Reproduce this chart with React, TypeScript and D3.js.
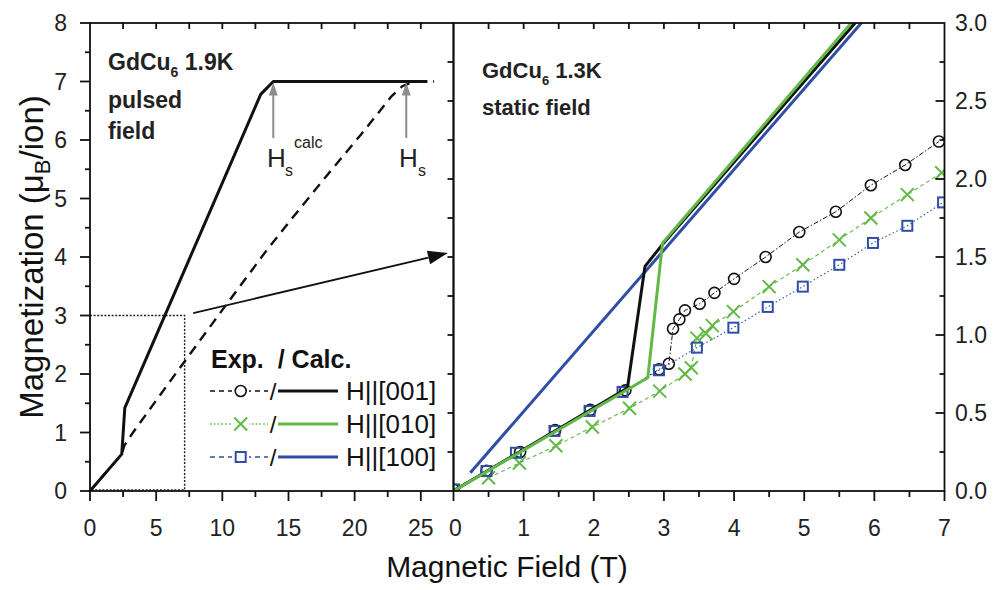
import React from 'react';
import * as d3 from 'd3';

// ---------- Pulsed-field panel (GdCu6, 1.9 K) ----------
const pulsedCalcField = [0, 2.4, 2.63, 12.9, 13.85, 25.5];
const pulsedCalcMag = [0, 0.63, 1.42, 6.78, 7.0, 7.0];
const pulsedExpField = [0, 2.4, 2.6, 3.25, 6, 9.76, 13.3, 15.3, 18, 20.5, 22.8, 23.6, 24.5, 26];
const pulsedExpMag = [0, 0.63, 0.78, 1.0, 1.86, 3.02, 4.1, 4.67, 5.42, 6.1, 6.75, 6.92, 7.0, 7.0];
const hsCalcField = 13.85;
const hsField = 23.9;

// ---------- Static-field panel (GdCu6, 1.3 K) ----------
const calc001Field = [0, 2.48, 2.73, 2.96, 5.9];
const calc001Mag = [0, 0.66, 1.44, 1.57, 3.09];
const calc010Field = [0, 2.77, 2.98, 5.9];
const calc010Mag = [0, 0.726, 1.59, 3.12];
const calc100Field = [0.24, 5.95];
const calc100Mag = [0.117, 3.07];

const exp001Field = [0, 0.47, 0.95, 1.45, 1.95, 2.45, 2.93, 3.07, 3.13, 3.22, 3.3, 3.51, 3.72, 4.0, 4.45, 4.93, 5.45, 5.95, 6.44, 6.92];
const exp001Mag = [0.01, 0.13, 0.25, 0.39, 0.52, 0.645, 0.78, 0.816, 1.04, 1.1, 1.158, 1.2, 1.27, 1.36, 1.5, 1.66, 1.79, 1.96, 2.09, 2.24];
const exp010Field = [0.5, 0.94, 1.46, 1.98, 2.51, 2.94, 3.3, 3.39, 3.47, 3.6, 3.69, 3.99, 4.5, 4.98, 5.5, 5.95, 6.47, 6.96];
const exp010Mag = [0.085, 0.18, 0.29, 0.41, 0.53, 0.64, 0.75, 0.79, 0.98, 1.01, 1.06, 1.15, 1.31, 1.45, 1.61, 1.75, 1.9, 2.04];
const exp100Field = [0.01, 0.47, 0.89, 1.44, 1.94, 2.41, 2.93, 3.47, 3.99, 4.48, 4.98, 5.5, 5.98, 6.47, 6.98];
const exp100Mag = [0.01, 0.128, 0.245, 0.385, 0.513, 0.635, 0.774, 0.919, 1.047, 1.18, 1.31, 1.45, 1.59, 1.7, 1.85];

// ---------- Axis ticks ----------
const leftYTicks = [0, 1, 2, 3, 4, 5, 6, 7, 8];
const leftXTicks = [0, 5, 10, 15, 20, 25];
const rightXTicks = [0, 1, 2, 3, 4, 5, 6, 7];
const rightYTicks = [0, 0.5, 1, 1.5, 2, 2.5, 3];
const legendLabels = ['H||[001]', 'H||[010]', 'H||[100]'];

const BLACK = '#111';
const GREEN = '#63b947';
const BLUE = '#2f4fa6';
const FONT = "'Liberation Sans', Arial, Helvetica, sans-serif";

const TOP = 23;
const BOTTOM = 491;
const LX0 = 90;
const MID = 453.5;
const RX1 = 944.5;

const xL = d3.scaleLinear().domain([0, 27.47]).range([LX0, MID]);
const yL = d3.scaleLinear().domain([0, 8]).range([BOTTOM, TOP]);
const xR = d3.scaleLinear().domain([0, 7]).range([MID, RX1]);
const yR = d3.scaleLinear().domain([0, 3]).range([BOTTOM, TOP]);

const zip = (xs: number[], ys: number[]) => xs.map((x, i) => [x, ys[i]] as [number, number]);
const range = (a: number, b: number, s: number) => d3.range(a, b + s / 2, s);

const lineL = d3.line<[number, number]>().x(d => xL(d[0])).y(d => yL(d[1]));
const lineR = d3.line<[number, number]>().x(d => xR(d[0])).y(d => yR(d[1]));

function Circle({ x, y }: { x: number; y: number }) {
  return <circle cx={x} cy={y} r={5.5} fill="none" stroke={BLACK} strokeWidth={1.6} />;
}
function Cross({ x, y }: { x: number; y: number }) {
  const s = 6.5;
  return (
    <path d={`M${x - s},${y - s}L${x + s},${y + s}M${x - s},${y + s}L${x + s},${y - s}`} stroke={GREEN} strokeWidth={2} fill="none" />
  );
}
function Square({ x, y }: { x: number; y: number }) {
  return <rect x={x - 5} y={y - 5} width={10} height={10} fill="none" stroke={BLUE} strokeWidth={2} />;
}

function UpArrow({ x, yTip, yTail }: { x: number; yTip: number; yTail: number }) {
  return (
    <g>
      <line x1={x} x2={x} y1={yTail} y2={yTip + 10} stroke="#8c8c8c" strokeWidth={2} />
      <path d={`M${x},${yTip}L${x - 4.5},${yTip + 13}L${x + 4.5},${yTip + 13}Z`} fill="#8c8c8c" />
    </g>
  );
}

export default function App() {
  const tickLabel = { fontFamily: FONT, fontSize: 23, fill: '#222' } as const;

  // zoom-arrow geometry, expressed in the left panel's units
  const a0: [number, number] = [xL(7.8), yL(3.04)];
  const a1: [number, number] = [xL(27.05), yL(4.07)];
  const dx = a1[0] - a0[0];
  const dy = a1[1] - a0[1];
  const len = Math.hypot(dx, dy);
  const ux = dx / len;
  const uy = dy / len;
  const headL = 20;
  const headW = 7;
  const hb: [number, number] = [a1[0] - ux * headL, a1[1] - uy * headL];

  const legendRows = [
    { y: 391, color: BLACK, dash: '5,4', marker: 'c' },
    { y: 424, color: GREEN, dash: '1.6,2.2', marker: 'x' },
    { y: 457, color: BLUE, dash: '5,4', marker: 's' },
  ];

  return (
    <svg width={994} height={590} style={{ position: 'absolute', left: 0, top: 0, background: '#fff' }}>
      <defs>
        <clipPath id="clipL">
          <rect x={LX0} y={TOP} width={MID - LX0} height={BOTTOM - TOP} />
        </clipPath>
        <clipPath id="clipR">
          <rect x={MID} y={TOP} width={RX1 - MID} height={BOTTOM - TOP} />
        </clipPath>
      </defs>

      {/* ---------- left panel ---------- */}
      <g clipPath="url(#clipL)">
        <rect x={xL(0)} y={yL(3)} width={xL(7.15) - xL(0)} height={yL(0.02) - yL(3)} fill="none" stroke="#222" strokeWidth={1.4} strokeDasharray="2,1.6" />
        <path d={lineL(zip(pulsedExpField, pulsedExpMag)) || ''} fill="none" stroke={BLACK} strokeWidth={2.4} strokeDasharray="10,7" />
        <path d={lineL(zip(pulsedCalcField, pulsedCalcMag)) || ''} fill="none" stroke={BLACK} strokeWidth={3} strokeLinejoin="round" />
      </g>

      <UpArrow x={xL(hsCalcField)} yTip={yL(7) + 1} yTail={138} />
      <UpArrow x={xL(hsField)} yTip={yL(7) + 1} yTail={138} />
      <text x={267} y={167} fontFamily={FONT} fontSize={26} fill="#222">H</text>
      <text x={285} y={176} fontFamily={FONT} fontSize={16} fill="#222">s</text>
      <text x={294} y={148} fontFamily={FONT} fontSize={16} fill="#222">calc</text>
      <text x={399} y={167} fontFamily={FONT} fontSize={26} fill="#222">H</text>
      <text x={418} y={176} fontFamily={FONT} fontSize={16} fill="#222">s</text>

      <text x={108} y={70} fontFamily={FONT} fontSize={23} fontWeight="bold" fill="#222">
        GdCu<tspan fontSize={14} dy={7}>6</tspan>
        <tspan dy={-7}> 1.9K</tspan>
      </text>
      <text x={108} y={108} fontFamily={FONT} fontSize={23} fontWeight="bold" fill="#222">pulsed</text>
      <text x={108} y={139} fontFamily={FONT} fontSize={23} fontWeight="bold" fill="#222">field</text>

      {/* zoom arrow */}
      <line x1={a0[0]} y1={a0[1]} x2={hb[0]} y2={hb[1]} stroke={BLACK} strokeWidth={1.8} />
      <path
        d={`M${a1[0]},${a1[1]}L${hb[0] - uy * headW},${hb[1] + ux * headW}L${hb[0] + uy * headW},${hb[1] - ux * headW}Z`}
        fill={BLACK}
      />

      {/* legend */}
      <text x={211} y={368} fontFamily={FONT} fontSize={25} fontWeight="bold" fill="#111">
        Exp.{'\u00a0\u00a0'}/ Calc.
      </text>
      {legendRows.map((r, i) => (
        <g key={i}>
          <line x1={210} x2={268} y1={r.y} y2={r.y} stroke={r.color} strokeWidth={1.5} strokeDasharray={r.dash} />
          <rect x={232} y={r.y - 8} width={17} height={16} fill="#fff" />
          {r.marker === 'c' && <Circle x={240.7} y={r.y} />}
          {r.marker === 'x' && <Cross x={240.7} y={r.y} />}
          {r.marker === 's' && <Square x={240.7} y={r.y} />}
          <text x={273} y={r.y + 9} textAnchor="middle" fontFamily={FONT} fontSize={24} fill="#111">/</text>
          <line x1={278} x2={338} y1={r.y} y2={r.y} stroke={r.color} strokeWidth={3} />
          <text x={346} y={r.y + 9} fontFamily={FONT} fontSize={26} fill="#111">{legendLabels[i]}</text>
        </g>
      ))}

      {/* ---------- right panel ---------- */}
      <g clipPath="url(#clipR)">
        <path d={lineR(zip(exp001Field, exp001Mag)) || ''} fill="none" stroke={BLACK} strokeWidth={1} strokeDasharray="5,2,1.5,2" />
        <path d={lineR(zip(exp010Field, exp010Mag)) || ''} fill="none" stroke={GREEN} strokeWidth={1.1} strokeDasharray="4,3" />
        <path d={lineR(zip(exp100Field, exp100Mag)) || ''} fill="none" stroke={BLUE} strokeWidth={1.1} strokeDasharray="1.5,2.5" />
        {exp001Field.map((f, i) => <Circle key={'c' + i} x={xR(f)} y={yR(exp001Mag[i])} />)}
        {exp010Field.map((f, i) => <Cross key={'x' + i} x={xR(f)} y={yR(exp010Mag[i])} />)}
        {exp100Field.map((f, i) => <Square key={'s' + i} x={xR(f)} y={yR(exp100Mag[i])} />)}
        <path d={lineR(zip(calc100Field, calc100Mag)) || ''} fill="none" stroke={BLUE} strokeWidth={3} />
        <path d={lineR(zip(calc001Field, calc001Mag)) || ''} fill="none" stroke={BLACK} strokeWidth={3} strokeLinejoin="round" />
        <path d={lineR(zip(calc010Field, calc010Mag)) || ''} fill="none" stroke={GREEN} strokeWidth={3} strokeLinejoin="round" />
      </g>

      <text x={482} y={78} fontFamily={FONT} fontSize={22} fontWeight="bold" fill="#222">
        GdCu<tspan fontSize={13} dy={7}>6</tspan>
        <tspan dy={-7}> 1.3K</tspan>
      </text>
      <text x={482} y={115} fontFamily={FONT} fontSize={22} fontWeight="bold" fill="#222">static field</text>

      {/* ---------- axes ---------- */}
      <g stroke="#111" strokeWidth={1.8}>
        {/* left panel left axis */}
        {range(0, 8, 0.5).map(v => (
          <line key={'ly' + v} x1={LX0 - (v % 1 === 0 ? 10 : 5)} x2={LX0} y1={yL(v)} y2={yL(v)} />
        ))}
        {/* left panel bottom / top */}
        {range(0, 27.5, 2.5).filter(v => v <= 27.47).map(v => (
          <g key={'lx' + v}>
            <line x1={xL(v)} x2={xL(v)} y1={BOTTOM} y2={BOTTOM + (v % 5 === 0 ? 10 : 6)} />
            {v > 0 && <line x1={xL(v)} x2={xL(v)} y1={TOP} y2={TOP + 6} />}
          </g>
        ))}
        {/* right panel bottom / top */}
        {range(0, 7, 0.5).map(v => (
          <g key={'rx' + v}>
            <line x1={xR(v)} x2={xR(v)} y1={BOTTOM} y2={BOTTOM + (v % 1 === 0 ? 10 : 6)} />
            {v > 0 && v < 7 && <line x1={xR(v)} x2={xR(v)} y1={TOP} y2={TOP + 6} />}
          </g>
        ))}
        {/* right panel left (shared) and right axes */}
        {range(0, 3, 0.25).map(v => (
          <g key={'ry' + v}>
            {v > 0 && v < 3 && <line x1={MID - 6} x2={MID} y1={yR(v)} y2={yR(v)} />}
            {v > 0 && v < 3 && <line x1={RX1 - (v % 0.5 === 0 ? 9 : 5)} x2={RX1} y1={yR(v)} y2={yR(v)} />}
          </g>
        ))}
        <rect x={LX0} y={TOP} width={MID - LX0} height={BOTTOM - TOP} fill="none" />
        <rect x={MID} y={TOP} width={RX1 - MID} height={BOTTOM - TOP} fill="none" />
      </g>

      {leftYTicks.map(v => (
        <text key={'lyt' + v} x={67} y={yL(v)} dy="0.36em" textAnchor="end" {...tickLabel}>{v}</text>
      ))}
      {leftXTicks.map(v => (
        <text key={'lxt' + v} x={xL(v)} y={536} textAnchor="middle" {...tickLabel}>{v}</text>
      ))}
      {rightXTicks.map(v => (
        <text key={'rxt' + v} x={xR(v) + (v === 0 ? 2 : 0)} y={536} textAnchor="middle" {...tickLabel}>{v}</text>
      ))}
      {rightYTicks.map(v => (
        <text key={'ryt' + v} x={955} y={yR(v)} dy="0.36em" textAnchor="start" {...tickLabel}>{v.toFixed(1)}</text>
      ))}

      <text x={507} y={577} textAnchor="middle" fontFamily={FONT} fontSize={30} fill="#111">Magnetic Field (T)</text>
      <text transform={`translate(43,${(TOP + BOTTOM) / 2}) rotate(-90)`} textAnchor="middle" fontFamily={FONT} fontSize={33} fill="#111">
        Magnetization (μ<tspan fontSize={22} dy={7}>B</tspan>
        <tspan dy={-7}>/ion)</tspan>
      </text>
    </svg>
  );
}
